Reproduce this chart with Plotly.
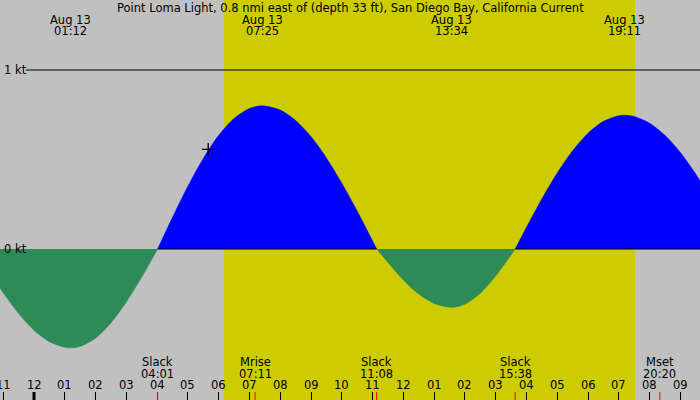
import plotly.graph_objects as go

# ---- data (hours after midnight Aug 13, speed in knots; + flood, - ebb) ----
hours = [-1.105, -1.0, -0.5, 0.0, 0.5, 1.0, 1.2, 1.5, 2.0, 2.5, 3.0, 3.5, 3.75, 4.017,
         4.25, 4.5, 5.0, 5.5, 6.0, 6.5, 7.0, 7.417, 8.0, 8.5, 9.0, 9.5, 10.0, 10.5, 11.0, 11.133,
         11.5, 12.0, 12.5, 13.0, 13.567, 14.0, 14.5, 15.0, 15.5, 15.633,
         16.0, 16.5, 17.0, 17.5, 18.0, 18.5, 19.0, 19.183, 19.5, 20.0, 20.5, 21.0, 21.5, 21.64]
speed = [-0.218, -0.245, -0.361, -0.454, -0.518, -0.549, -0.552, -0.544, -0.498, -0.413, -0.296, -0.157, -0.082, 0.0,
         0.086, 0.177, 0.351, 0.506, 0.635, 0.729, 0.785, 0.800, 0.776, 0.718, 0.628, 0.509, 0.368, 0.212, 0.045, 0.0,
         -0.076, -0.173, -0.252, -0.304, -0.326, -0.308, -0.247, -0.151, -0.033, 0.0,
         0.121, 0.280, 0.425, 0.549, 0.647, 0.713, 0.745, 0.747, 0.740, 0.703, 0.635, 0.539, 0.419, 0.380]

title_text = "Point Loma Light, 0.8 nmi east of (depth 33 ft), San Diego Bay, California Current"

top_times = [1.2, 7.417, 13.567, 19.183]
top_dates = ["Aug 13", "Aug 13", "Aug 13", "Aug 13"]
top_labels = ["01:12", "07:25", "13:34", "19:11"]

bottom_times = [4.017, 7.183, 11.133, 15.633, 20.333]
bottom_names = ["Slack", "Mrise", "Slack", "Slack", "Mset"]
bottom_labels = ["04:01", "07:11", "11:08", "15:38", "20:20"]

hour_ticks = list(range(-1, 22))
hour_labels = ["11", "12", "01", "02", "03", "04", "05", "06", "07", "08", "09", "10", "11",
               "12", "01", "02", "03", "04", "05", "06", "07", "08", "09"]

sunrise = 6.17
sunset = 19.53
now_time = [5.66]
now_speed = [0.557]

# ---- figure ----
W, H = 700, 400
FONT = "DejaVu Sans"
FS = 11.5
XR = [-34 / 30.78, 666 / 30.78]
YR = [-151 / 179.0, 249 / 179.0]

def py(pix):
    return 1 - pix / H

fig = go.Figure()

# split curve into flood / ebb segments at slack (zero) points
segs = []
cur = [0]
for i in range(1, len(hours)):
    cur.append(i)
    if speed[i] == 0 and i != len(hours) - 1:
        segs.append(cur)
        cur = [i]
segs.append(cur)

flood_spans = []
for s in segs:
    xs = [hours[i] for i in s]
    ys = [speed[i] for i in s]
    pos = sum(ys) > 0
    col = "#0000FF" if pos else "#2E8B57"
    if pos:
        flood_spans.append((xs[0], xs[-1]))
    fig.add_trace(go.Scatter(x=xs, y=ys, mode="lines", fill="tozeroy", fillcolor=col,
                             line=dict(color=col, width=0.5, shape="spline", smoothing=0.8),
                             hoverinfo="skip", showlegend=False))

fig.add_trace(go.Scatter(x=now_time, y=now_speed, mode="markers",
                         marker=dict(symbol="cross-thin", size=9, line=dict(color="black", width=1.3)),
                         hoverinfo="skip", showlegend=False))

shapes = []
# daylight
shapes.append(dict(type="rect", xref="x", yref="paper", x0=sunrise, x1=sunset, y0=0, y1=1,
                   fillcolor="#CCCC00", line=dict(width=0), layer="below"))
# 1 kt line
shapes.append(dict(type="line", xref="paper", yref="y", x0=26 / W, x1=1, y0=1, y1=1,
                   line=dict(color="black", width=1), layer="above"))
# zero line under flood
for a, b in flood_spans:
    shapes.append(dict(type="line", xref="x", yref="y", x0=a, x1=b, y0=0, y1=0,
                       line=dict(color="black", width=1), layer="above"))
# midnight thick tick
shapes.append(dict(type="line", xref="x", yref="paper", x0=0, x1=0, y0=0, y1=8 / H,
                   line=dict(color="black", width=3)))
# red event ticks
for t in bottom_times:
    shapes.append(dict(type="line", xref="x", yref="paper", x0=t, x1=t, y0=0, y1=8 / H,
                       line=dict(color="#FF0000", width=1)))

ann = []
ann.append(dict(text=title_text, x=0.5, xref="paper", y=py(7.5), yref="paper",
                showarrow=False, xanchor="center", yanchor="middle"))
for t, d, l in zip(top_times, top_dates, top_labels):
    ann.append(dict(text=d, x=t, xref="x", y=py(20), yref="paper", showarrow=False,
                    xanchor="center", yanchor="middle"))
    ann.append(dict(text=l, x=t, xref="x", y=py(31.5), yref="paper", showarrow=False,
                    xanchor="center", yanchor="middle"))
for t, n, l in zip(bottom_times, bottom_names, bottom_labels):
    ann.append(dict(text=n, x=t, xref="x", y=py(361.5), yref="paper", showarrow=False,
                    xanchor="center", yanchor="middle"))
    ann.append(dict(text=l, x=t, xref="x", y=py(373.5), yref="paper", showarrow=False,
                    xanchor="center", yanchor="middle"))
for t, l in zip(hour_ticks, hour_labels):
    ann.append(dict(text=l, x=t, xref="x", y=py(385), yref="paper", showarrow=False,
                    xanchor="center", yanchor="middle"))
ann.append(dict(text="1 kt", x=2 / W, xref="paper", y=1, yref="y", showarrow=False,
                xanchor="left", yanchor="middle"))
ann.append(dict(text="0 kt", x=2 / W, xref="paper", y=0, yref="y", showarrow=False,
                xanchor="left", yanchor="middle"))

fig.update_layout(
    width=W, height=H,
    margin=dict(l=0, r=0, t=0, b=0),
    paper_bgcolor="#C0C0C0", plot_bgcolor="#C0C0C0",
    font=dict(family=FONT, size=FS, color="black"),
    shapes=shapes, annotations=ann,
    hovermode=False, showlegend=False,
    xaxis=dict(range=XR, showgrid=False, zeroline=False, showline=False,
               tickmode="array", tickvals=hour_ticks, ticks="inside", ticklen=8,
               tickcolor="black", tickwidth=1, showticklabels=False, fixedrange=True),
    yaxis=dict(range=YR, showgrid=False, zeroline=False, showline=False,
               showticklabels=False, ticks="", fixedrange=True),
)

fig.write_html("out.html", config={"displayModeBar": False},
               post_script="document.body.style.margin='0px';document.body.style.overflow='hidden';")
